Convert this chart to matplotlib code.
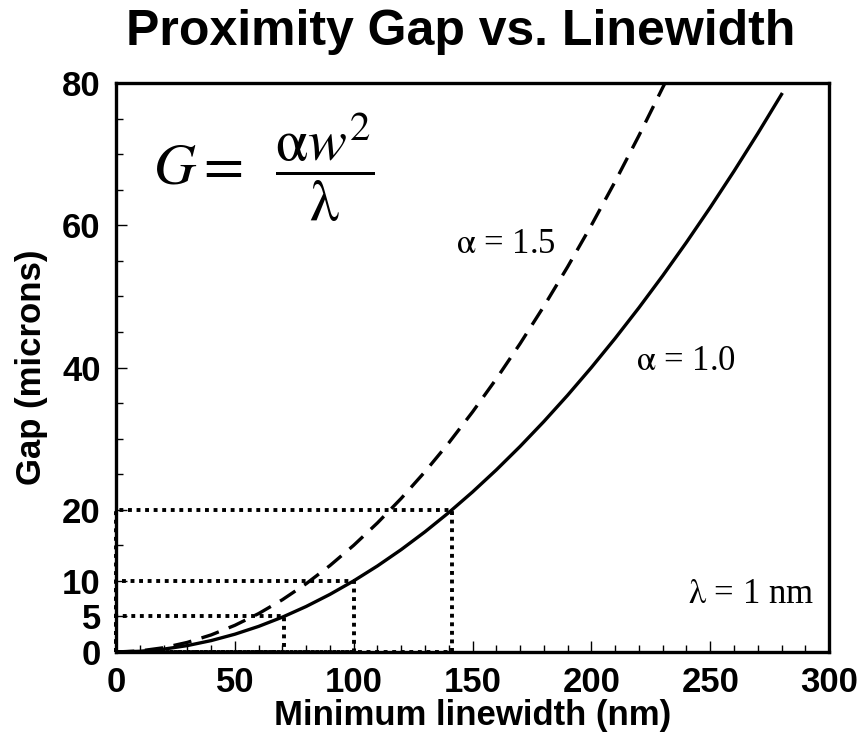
import matplotlib.pyplot as plt
from matplotlib.ticker import MultipleLocator

# linewidth (nm) and gap (microns), lambda = 1 nm
width_a10 = [0, 10, 20, 30, 40, 50, 60, 70, 80, 90, 100, 110, 120, 130, 140,
             150, 160, 170, 180, 190, 200, 210, 220, 230, 240, 250, 260, 270, 280]
gap_a10 = [0, 0.1, 0.4, 0.9, 1.6, 2.5, 3.6, 4.9, 6.4, 8.1, 10, 12.1, 14.4, 16.9, 19.6,
           22.5, 25.6, 28.9, 32.4, 36.1, 40, 44.1, 48.4, 52.9, 57.6, 62.5, 67.6, 72.9, 78.4]

width_a15 = [0, 10, 20, 30, 40, 50, 60, 70, 80, 90, 100, 110, 120, 130, 140,
             150, 160, 170, 180, 190, 200, 210, 220, 230, 231]
gap_a15 = [0, 0.15, 0.6, 1.35, 2.4, 3.75, 5.4, 7.35, 9.6, 12.15, 15, 18.15, 21.6, 25.35, 29.4,
           33.75, 38.4, 43.35, 48.6, 54.15, 60, 66.15, 72.6, 79.35, 80]

# marked points on the alpha = 1.0 curve
mark_width = [70.7, 100, 141.4]
mark_gap = [5, 10, 20]

x_ticks = [0, 50, 100, 150, 200, 250, 300]
y_ticks = [0, 5, 10, 20, 40, 60, 80]

sans = 'Liberation Sans'
serif = 'Liberation Serif'
plt.rcParams['mathtext.fontset'] = 'stix'

dpi = 100
fig = plt.figure(figsize=(860 / dpi, 742 / dpi), dpi=dpi)
ax = fig.add_axes([0.1349, 0.1213, 0.8291, 0.7668])

for w, g in zip(mark_width, mark_gap):
    ax.plot([0, 0, w, w, 0], [0, g, g, 0, 0], color='black', lw=2.8,
            linestyle=(0, (1, 1.2)), clip_on=False, zorder=2)

ax.plot(width_a10, gap_a10, color='black', lw=2.4, zorder=3)
ax.plot(width_a15, gap_a15, color='black', lw=2.4, linestyle=(0, (5.5, 3.2)), zorder=3)

ax.set_xlim(0, 300)
ax.set_ylim(0, 80)
ax.set_xticks(x_ticks)
ax.set_yticks(y_ticks)
ax.xaxis.set_minor_locator(MultipleLocator(10))
ax.yaxis.set_minor_locator(MultipleLocator(5))
ax.tick_params(which='both', direction='in', top=False, right=False, width=1)
ax.tick_params(which='major', length=8)
ax.tick_params(which='minor', length=5)
ax.tick_params(axis='x', which='major', pad=10)
ax.tick_params(axis='y', which='major', pad=11)
for lab in ax.get_xticklabels() + ax.get_yticklabels():
    lab.set_fontfamily(sans)
    lab.set_fontweight('bold')
    lab.set_fontsize(25)
for sp in ax.spines.values():
    sp.set_linewidth(2.4)

ax.set_xlabel('Minimum linewidth (nm)', fontfamily=sans, fontweight='bold', fontsize=25, labelpad=0)
ax.set_ylabel('Gap (microns)', fontfamily=sans, fontweight='bold', fontsize=25, labelpad=10)
fig.suptitle('Proximity Gap vs. Linewidth', fontfamily=sans, fontweight='bold', fontsize=36,
             x=0.536, y=0.988)

ax.text(15.6, 65.7, r'$G =\;\;\dfrac{\mathrm{\alpha} w^2}{\mathrm{\lambda}}$', fontsize=42)
ax.text(142.9, 56.1, r'$\mathrm{\alpha}$ = 1.5', fontfamily=serif, fontsize=25)
ax.text(218.7, 39.7, r'$\mathrm{\alpha}$ = 1.0', fontfamily=serif, fontsize=25)
ax.text(240.6, 6.9, r'$\mathrm{\lambda}$ = 1 nm', fontfamily=serif, fontsize=25)

plt.savefig('out.png', dpi=dpi)
plt.close(fig)
